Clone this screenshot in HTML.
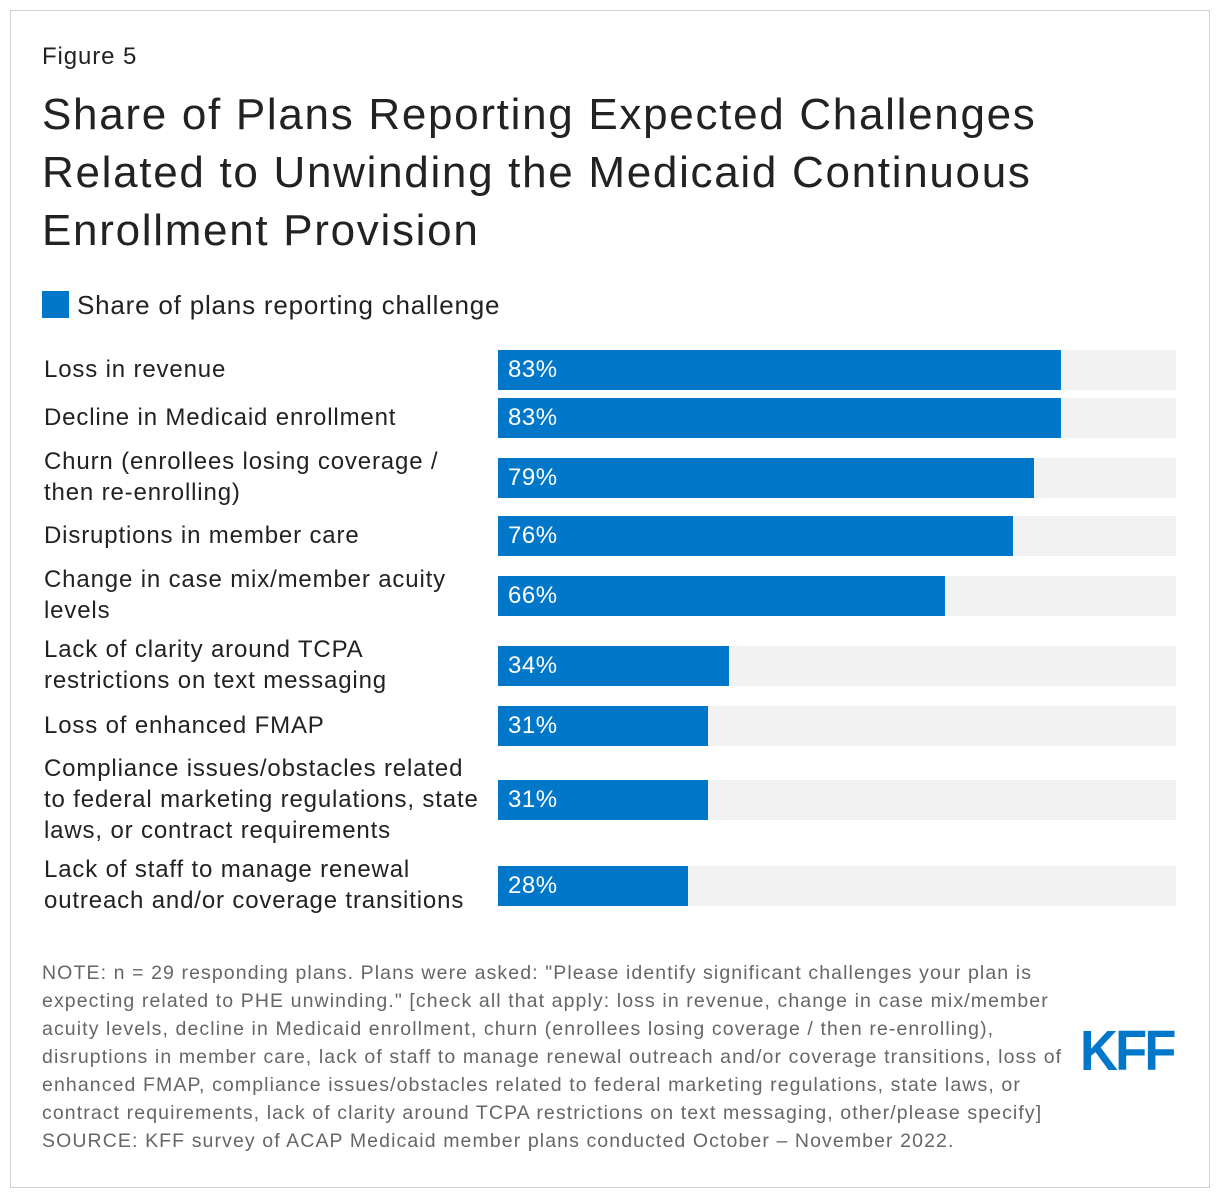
<!DOCTYPE html>
<html><head><meta charset="utf-8">
<style>
body{margin:0;background:#fff;font-family:"Liberation Sans",Arial,sans-serif;}
#card{position:absolute;left:10px;top:10px;width:1200px;height:1178px;border:1px solid #d0d0d0;box-sizing:border-box;}
.abs{position:absolute;white-space:nowrap;}
#fig{left:42px;top:43px;font-size:24px;color:#222;letter-spacing:0.9px;}
#title{left:42px;top:86px;font-size:44px;line-height:58px;color:#222;letter-spacing:1.7px;}
#legend{left:42px;top:290px;font-size:26px;color:#222;letter-spacing:0.8px;}
#legend span{display:inline-block;width:27px;height:27px;background:#0077c8;vertical-align:-4px;margin-right:8px;}
.lbl{position:absolute;left:44px;font-size:24px;line-height:31px;color:#222;white-space:pre;letter-spacing:0.85px;}
.track{position:absolute;left:498px;width:678px;height:40px;background:#f2f2f2;}
.bar{position:absolute;left:498px;height:40px;background:#0077c8;}
.val{position:absolute;left:508px;font-size:24px;color:#fff;line-height:40px;letter-spacing:0.5px;}
#note{left:42px;top:959px;font-size:19.5px;line-height:28px;color:#666;letter-spacing:1.1px;}
#logo{left:1080px;top:1018px;font-size:57px;font-weight:bold;color:#0077c8;letter-spacing:-3px;transform:scaleX(0.92);transform-origin:left;}
</style></head><body>
<div id="card"></div>
<div id="fig" class="abs">Figure 5</div>
<div id="title" class="abs">Share of Plans Reporting Expected Challenges<br>Related to Unwinding the Medicaid Continuous<br>Enrollment Provision</div>
<div id="legend" class="abs"><span></span>Share of plans reporting challenge</div>
<div id="chart"></div>
<div id="note" class="abs">NOTE: n = 29 responding plans. Plans were asked: "Please identify significant challenges your plan is<br>expecting related to PHE unwinding." [check all that apply: loss in revenue, change in case mix/member<br>acuity levels, decline in Medicaid enrollment, churn (enrollees losing coverage / then re-enrolling),<br>disruptions in member care, lack of staff to manage renewal outreach and/or coverage transitions, loss of<br>enhanced FMAP, compliance issues/obstacles related to federal marketing regulations, state laws, or<br>contract requirements, lack of clarity around TCPA restrictions on text messaging, other/please specify]<br>SOURCE: KFF survey of ACAP Medicaid member plans conducted October – November 2022.</div>
<div id="logo" class="abs">KFF</div>
<script>
const categories=["Loss in revenue","Decline in Medicaid enrollment","Churn (enrollees losing coverage /\nthen re-enrolling)","Disruptions in member care","Change in case mix/member acuity\nlevels","Lack of clarity around TCPA\nrestrictions on text messaging","Loss of enhanced FMAP","Compliance issues/obstacles related\nto federal marketing regulations, state\nlaws, or contract requirements","Lack of staff to manage renewal\noutreach and/or coverage transitions"];
const values=[83,83,79,76,66,34,31,31,28];
const rowTops=[350,398,458,516,576,646,706,780,866];
const trackW=678;
function x(v){return v/100*trackW;}
const chart=document.getElementById('chart');
categories.forEach((c,i)=>{
  const top=rowTops[i];
  const n=c.split('\n').length;
  const lbl=document.createElement('div');
  lbl.className='lbl';
  
  
  lbl.textContent=c;
  lbl.style.top=(top+20-n*31/2-1)+'px';
  chart.appendChild(lbl);
  const tr=document.createElement('div');
  tr.className='track';
  
  
  tr.style.top=top+'px';
  chart.appendChild(tr);
  const b=document.createElement('div');
  b.className='bar';
  
  
  b.style.top=top+'px';b.style.width=x(values[i])+'px';
  chart.appendChild(b);
  const v=document.createElement('div');
  v.className='val';
  
  
  v.style.top=top+'px';v.textContent=values[i]+'%';
  chart.appendChild(v);
});
</script>
</body></html>
